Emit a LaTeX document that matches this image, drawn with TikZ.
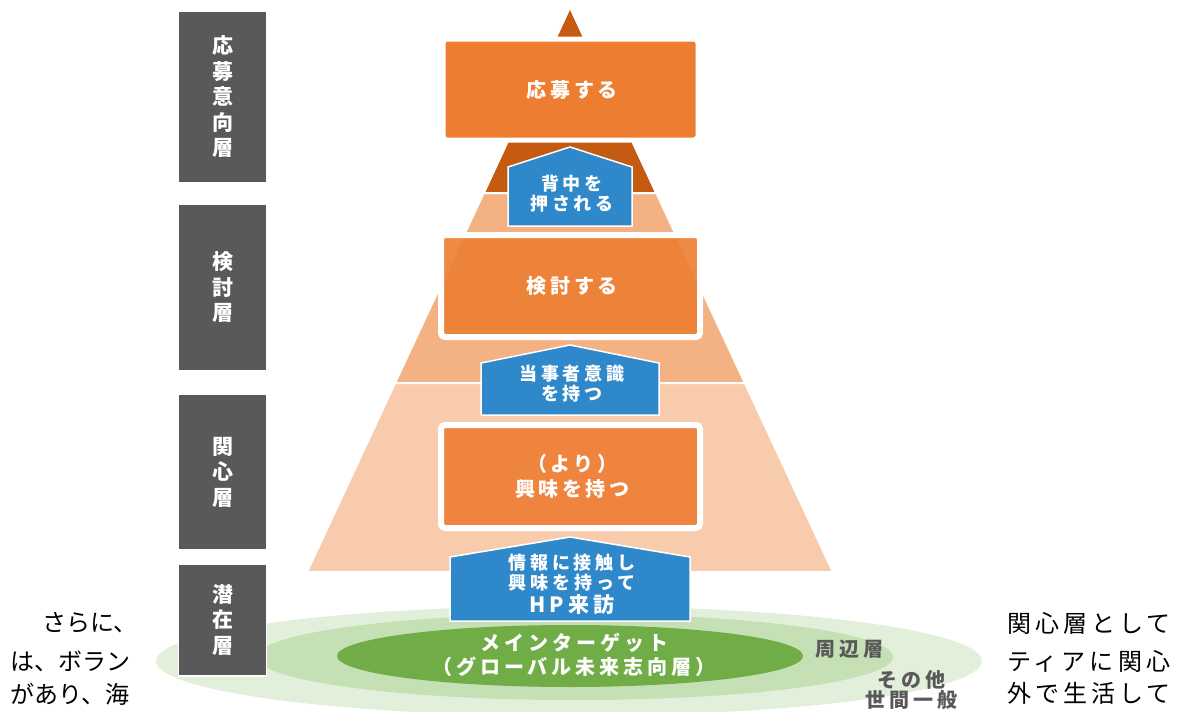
\documentclass[tikz,border=0pt]{standalone}
\usepackage{fontspec}
\setmainfont{Noto Sans CJK JP}
\newfontfamily\jp{Noto Sans CJK JP}
\newfontfamily\jpsp[LetterSpace=17]{Noto Sans CJK JP}
\newfontfamily\jpbox[LetterSpace=18]{Noto Sans CJK JP}
\newfontfamily\jpblu[LetterSpace=22]{Noto Sans CJK JP}
\newfontfamily\jpgrn[LetterSpace=20]{Noto Sans CJK JP}
\definecolor{topor}{HTML}{C55A11}
\definecolor{midor}{HTML}{F4B183}
\definecolor{lowor}{HTML}{F8CBAD}
\definecolor{boxor}{HTML}{ED7D31}
\definecolor{blu}{HTML}{2E88C9}
\definecolor{bar}{HTML}{595959}
\definecolor{gout}{HTML}{E2EFDA}
\definecolor{gmid}{HTML}{C5E0B4}
\definecolor{gin}{HTML}{70AD47}
\tikzset{
  layer/.style={draw=white,line width=2},
  obox/.style={rectangle,rounded corners=4,fill=boxor,draw=white,line width=6,text=white,align=center,font=\jpbox\bfseries\fontsize{20}{25}\selectfont,inner sep=0},
  penta/.style={fill=blu,draw=white,line width=1.5},
  ptext/.style={text=white,align=center,font=\jpblu\bfseries\fontsize{18}{20}\selectfont,inner sep=0},
  barbox/.style={rectangle,fill=bar,draw=white,line width=1.5,minimum width=88,text=white,align=center,font=\jp\bfseries\fontsize{21}{25.5}\selectfont,inner sep=0},
  side/.style={text=black,align=left,anchor=west,inner sep=0,font=\jp\fontsize{24}{36}\selectfont},
  gtext/.style={text=bar,align=center,inner sep=0,font=\jpgrn\bfseries\fontsize{20}{19}\selectfont}
}
\begin{document}
\begin{tikzpicture}[x=1pt,y=-1pt]
\useasboundingbox (0,0) rectangle (1184,712);
\clip (0,0) rectangle (1184,712);
% ellipses
\fill[gout] (569,661) ellipse [x radius=413,y radius=55];
\fill[gmid] (575,657) ellipse [x radius=318,y radius=43];
\fill[gin] (570,656) ellipse [x radius=233,y radius=31];
\node[text=white,align=center,inner sep=0,font=\jpgrn\bfseries\fontsize{20}{24}\selectfont] (mt) at (574,655) {メインターゲット\\（グローバル未来志向層）};
\node[gtext] (peri) at (849,649) {周辺層};
\node[gtext,font=\jpgrn\bfseries\fontsize{20}{20}\selectfont] (oth) at (911,690) {その他\\世間一般};
% pyramid
\fill[layer,fill=topor] (570,7) -- (483.7,193) -- (656.3,193) -- cycle;
\filldraw[layer,fill=midor] (483.7,193) -- (656.3,193) -- (744.9,383) -- (395.1,383) -- cycle;
\filldraw[layer,fill=lowor] (395.1,383) -- (744.9,383) -- (833,572) -- (307,572) -- cycle;
\draw[layer] (570,7) -- (483.7,193) -- (656.3,193) -- cycle;
% boxes
\node[obox,line width=5,minimum width=255,minimum height=101] (b1) at (570.5,89.5) {\hspace{3.5pt}応募する};
\node[obox,fill opacity=0.9,text opacity=1,minimum width=259,minimum height=102] (b2) at (570.5,286) {\hspace{3.5pt}検討する};
\node[obox,fill opacity=0.9,text opacity=1,minimum width=259,minimum height=103] (b3) at (570.5,476.5) {\hspace{3.5pt}（より）\\\hspace{3.5pt}興味を持つ};
% pentagons
\filldraw[penta] (508,226) -- (508,167) -- (570,147) -- (632,167) -- (632,226) -- cycle;
\node[ptext] (p1) at (572,194) {背中を\\押される};
\filldraw[penta] (481,415) -- (481,363) -- (570,345) -- (659,363) -- (659,415) -- cycle;
\node[ptext] (p2) at (572,384) {当事者意識\\を持つ};
\filldraw[penta] (450,621) -- (450,557) -- (570,537) -- (690,557) -- (690,621) -- cycle;
\node[ptext] (p3) at (572,573) {情報に接触し\\興味を持って};
\node[ptext,font=\jpgrn\bfseries\fontsize{21}{22}\selectfont] (p3b) at (572,605) {HP来訪};
% bars
\node[barbox,minimum height=171] (l1) at (222.5,97) {応\\募\\意\\向\\層};
\node[barbox,minimum height=167] (l2) at (222.5,287.5) {検\\討\\層};
\node[barbox,minimum height=156] (l3) at (222.5,472) {関\\心\\層};
\node[barbox,minimum height=112] (l4) at (222.5,620) {潜\\在\\層};
% side texts
\node[side] (s1) at (42,623) {さらに、};
\node[side] (s2) at (10,661) {は、ボラン};
\node[side] (s3) at (10,694) {があり、海};
\node[side,font=\jpsp\fontsize{24}{36}\selectfont] (r1) at (1007,623) {関心層として};
\node[side,font=\jpsp\fontsize{24}{36}\selectfont] (r2) at (1007,661) {ティアに関心};
\node[side,font=\jpsp\fontsize{24}{36}\selectfont] (r3) at (1007,693) {外で生活して};
\end{tikzpicture}
\end{document}
